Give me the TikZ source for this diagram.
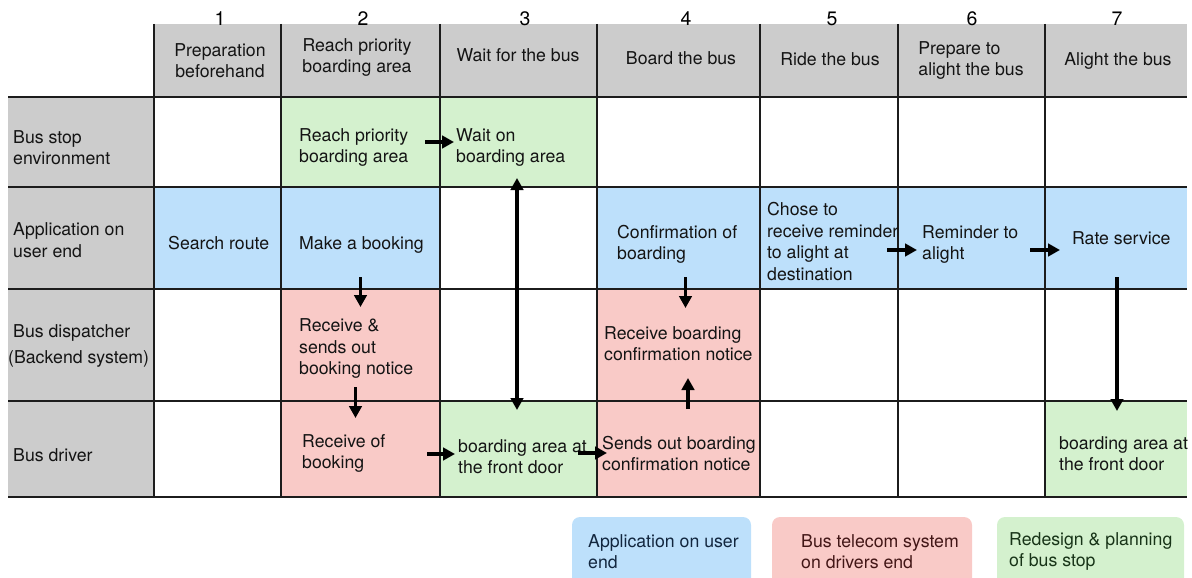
\documentclass[tikz,border=0pt]{standalone}
\usepackage{fontspec}
\setmainfont{TeX Gyre Heros}
\usetikzlibrary{arrows.meta,positioning}
\definecolor{headGray}{RGB}{204,204,204}
\definecolor{appBlue}{RGB}{189,224,251}
\definecolor{telRed}{RGB}{249,202,199}
\definecolor{stopGreen}{RGB}{212,241,206}
\definecolor{gridCol}{RGB}{28,28,28}
\definecolor{appText}{RGB}{18,38,62}
\definecolor{telText}{RGB}{66,22,22}
\definecolor{stopText}{RGB}{24,52,24}

\begin{document}
\begin{tikzpicture}[
    x=1pt, y=-1pt,
    >={Triangle[length=12pt, width=12.5pt]},
    cellBox/.style={inner sep=0pt, outer sep=0pt, draw=none},
    cellText/.style={anchor=west, align=left, inner sep=0pt, text=black!92, yshift=-1.5pt,
        font=\fontsize{17.7}{21.5}\selectfont},
    headText/.style={align=center, inner sep=0pt, text=black!92, yshift=-1pt,
        font=\fontsize{17.7}{21.5}\selectfont},
    stepNum/.style={inner sep=0pt, font=\fontsize{19.5}{22}\selectfont},
    gridLine/.style={line width=2pt, draw=gridCol},
    flowArrow/.style={->, line width=3.6pt},
    legendBox/.style={rounded corners=8pt, inner sep=0pt, minimum height=83pt}
]
    \useasboundingbox (0,0) rectangle (1192,578);
    \clip (0,0) rectangle (1192,578);

    % ---------------- row / column centres ----------------
    \def\rowA{142}
    \def\rowB{238}
    \def\rowC{345}
    \def\rowD{449}

    % ---------------- grey header band and label column ----------------
    \fill[headGray] (154,24) rectangle (1187,97);
    \fill[headGray] (8,97) rectangle (154,497);

    % ---------------- coloured cells ----------------
    \node[cellBox, fill=stopGreen, minimum width=159pt, minimum height=90pt] (reachCell) at (360.5,\rowA) {};
    \node[cellBox, fill=stopGreen, minimum width=157pt, minimum height=90pt] (waitCell) at (518.5,\rowA) {};

    \node[cellBox, fill=appBlue, minimum width=127pt, minimum height=102pt] (searchCell) at (217.5,\rowB) {};
    \node[cellBox, fill=appBlue, minimum width=159pt, minimum height=102pt] (bookCell) at (360.5,\rowB) {};
    \node[cellBox, fill=appBlue, minimum width=163pt, minimum height=102pt] (confirmCell) at (678.5,\rowB) {};
    \node[cellBox, fill=appBlue, minimum width=138pt, minimum height=102pt] (choseCell) at (829,\rowB) {};
    \node[cellBox, fill=appBlue, minimum width=147pt, minimum height=102pt] (remindCell) at (971.5,\rowB) {};
    \node[cellBox, fill=appBlue, minimum width=142pt, minimum height=102pt] (rateCell) at (1116,\rowB) {};

    \node[cellBox, fill=telRed, minimum width=159pt, minimum height=112pt] (noticeCell) at (360.5,\rowC) {};
    \node[cellBox, fill=telRed, minimum width=163pt, minimum height=112pt] (rcvConfCell) at (678.5,\rowC) {};

    \node[cellBox, fill=telRed, minimum width=159pt, minimum height=96pt] (rcvOfCell) at (360.5,\rowD) {};
    \node[cellBox, fill=stopGreen, minimum width=157pt, minimum height=96pt] (frontCell) at (518.5,\rowD) {};
    \node[cellBox, fill=telRed, minimum width=163pt, minimum height=96pt] (sendConfCell) at (678.5,\rowD) {};
    \node[cellBox, fill=stopGreen, minimum width=142pt, minimum height=96pt] (alightCell) at (1116,\rowD) {};

    % ---------------- grid ----------------
    \foreach \y in {97,187,289,401,497}
        \draw[gridLine] (8,\y) -- (1187,\y);
    \foreach \x in {154,281,440,597,760,898,1045}
        \draw[gridLine] (\x,24) -- (\x,497);

    % ---------------- step numbers and titles ----------------
    \foreach \x/\n in {220/1, 363/2, 525/3, 686/4, 832/5, 972/6, 1117/7}
        \node[stepNum] (num\n) at (\x,19) {\n};

    \node[headText] (stepPrep) at (220,59.5) {Preparation\\beforehand};
    \node[headText] (stepReach) at (357,56.5) {Reach priority\\boarding area};
    \node[headText] (stepWait) at (518,54) {Wait for the bus};
    \node[headText] (stepBoard) at (681,57) {Board the bus};
    \node[headText] (stepRide) at (830,58) {Ride the bus};
    \node[headText, align=left] (stepPrepare) at (971,59.5) {Prepare to\\alight the bus};
    \node[headText] (stepAlight) at (1118,60) {Alight the bus};

    % ---------------- lane labels ----------------
    \node[cellText] (laneStop) at (13,146) {Bus stop\\environment};
    \node[cellText] (laneApp) at (13,238.5) {Application on\\user end};
    \node[cellText] (laneDisp) at (13,344.5) {Bus dispatcher\\[5pt]\hspace*{-5pt}(Backend system)};
    \node[cellText] (laneDriver) at (13,454) {Bus driver};

    % ---------------- cell texts ----------------
    \node[cellText] (reachTxt) at (299,146) {Reach priority\\boarding area};
    \node[cellText] (waitTxt) at (456,146) {Wait on\\boarding area};

    \node[cellText] (searchTxt) at (168,242) {Search route};
    \node[cellText] (bookTxt) at (299,243) {Make a booking};
    \node[cellText] (confirmTxt) at (617,243) {Confirmation of\\boarding};
    \node[cellText] (choseTxt) at (767,240) {Chose to\\receive reminder\\to alight at\\destination};
    \node[cellText] (remindTxt) at (922,243) {Reminder to\\alight};
    \node[cellText] (rateTxt) at (1072,237) {Rate service};

    \node[cellText] (noticeTxt) at (299,347) {Receive \&\\sends out\\booking notice};
    \node[cellText] (rcvConfTxt) at (604,342) {Receive boarding\\confirmation notice};

    \node[cellText] (rcvOfTxt) at (302,452) {Receive of\\booking};
    \node[cellText] (frontTxt) at (458,455) {boarding area at\\the front door};
    \node[cellText] (sendConfTxt) at (602,452) {Sends out boarding\\confirmation notice};
    \node[cellText] (alightTxt) at (1059,452) {boarding area at\\the front door};

    % ---------------- flow arrows ----------------
    \draw[flowArrow] ([xshift=-15pt]reachCell.east) -- ([xshift=14pt]waitCell.west);
    \draw[flowArrow, <->] ([xshift=-1.5pt, yshift=9pt]waitCell.south) -- ([xshift=-1.5pt, yshift=-9pt]frontCell.north);
    \draw[flowArrow] ([yshift=12pt]bookCell.south) -- ([yshift=-18pt]noticeCell.north);
    \draw[flowArrow] ([xshift=-5pt, yshift=14pt]noticeCell.south) -- ([xshift=-5pt, yshift=-17pt]rcvOfCell.north);
    \draw[flowArrow] ([xshift=-13pt, yshift=-5pt]rcvOfCell.east) -- ([xshift=15pt, yshift=-5pt]frontCell.west);
    \draw[flowArrow] ([xshift=-19pt, yshift=-4pt]frontCell.east) -- ([xshift=10pt, yshift=-4pt]sendConfCell.west);
    \draw[flowArrow] ([xshift=7pt, yshift=12pt]confirmCell.south) -- ([xshift=7pt, yshift=-19pt]rcvConfCell.north);
    \draw[flowArrow] ([xshift=9.5pt, yshift=-8pt]sendConfCell.north) -- ([xshift=9.5pt, yshift=23pt]rcvConfCell.south);
    \draw[flowArrow] ([xshift=-11pt, yshift=-12pt]choseCell.east) -- ([xshift=19pt, yshift=-12pt]remindCell.west);
    \draw[flowArrow] ([xshift=-15pt, yshift=-12pt]remindCell.east) -- ([xshift=15pt, yshift=-12pt]rateCell.west);
    \draw[flowArrow] ([xshift=1pt, yshift=12pt]rateCell.south) -- ([xshift=1pt, yshift=-10pt]alightCell.north);

    % ---------------- legend ----------------
    \node[legendBox, fill=appBlue, minimum width=179pt] (keyApp) at (661.5,558.5) {};
    \node[legendBox, fill=telRed, minimum width=200pt] (keyTel) at (872,558.5) {};
    \node[legendBox, fill=stopGreen, minimum width=187pt] (keyStop) at (1090.5,558.5) {};

    \node[cellText, text=appText] (keyAppTxt) at (588,550) {Application on user\\end};
    \node[cellText, text=telText] (keyTelTxt) at (801,550) {Bus telecom system\\on drivers end};
    \node[cellText, text=stopText] (keyStopTxt) at (1009,550) {Redesign \& planning\\of bus stop};

\end{tikzpicture}
\end{document}
